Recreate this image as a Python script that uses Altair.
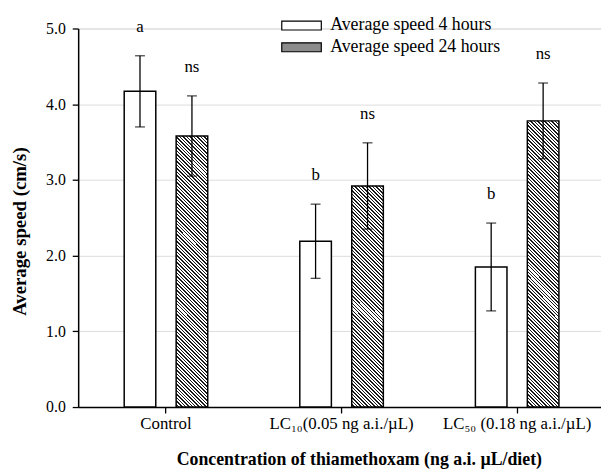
import altair as alt
import numpy as np
import pandas as pd

categories = ["Control", "LC₁₀(0.05 ng a.i./µL)", "LC₅₀ (0.18 ng a.i./µL)"]
series = ["Average speed 4 hours", "Average speed 24 hours"]
mean_4h = [4.17, 2.19, 1.85]
se_4h = [0.47, 0.49, 0.58]
mean_24h = [3.58, 2.92, 3.78]
se_24h = [0.53, 0.57, 0.50]
letters_4h = ["a", "b", "b"]
letters_24h = ["ns", "ns", "ns"]

rows = []
for i, c in enumerate(categories):
    rows.append(dict(idx=i, cat=c, series=series[0], mean=mean_4h[i],
                     lo=mean_4h[i] - se_4h[i], hi=mean_4h[i] + se_4h[i], letter=letters_4h[i]))
    rows.append(dict(idx=i, cat=c, series=series[1], mean=mean_24h[i],
                     lo=mean_24h[i] - se_24h[i], hi=mean_24h[i] + se_24h[i], letter=letters_24h[i]))
df = pd.DataFrame(rows)

FONT = "Liberation Serif"
PLOT_H = 383
PX_PER_UNIT = PLOT_H / 5.0
BAR_W = 32.0


def hatch(value):
    # diagonal stripe fill (style only) built as a sharp-stop linear gradient
    w = BAR_W
    h = value * PX_PER_UNIT
    r = w / h
    k = (r + 1) / (r * r + 1)
    ext = (w + h) / np.sqrt(2)
    n = int(round(ext / 2.5))
    stops = []
    for j in range(n):
        a = j / n
        b = (j + 0.42) / n
        e = (j + 1) / n
        stops += [
            {"offset": a, "color": "#1a1a1a"},
            {"offset": b, "color": "#1a1a1a"},
            {"offset": b, "color": "#ffffff"},
            {"offset": e, "color": "#ffffff"},
        ]
    return {"gradient": "linear", "x1": 1, "y1": 0, "x2": 1 - k * r, "y2": k, "stops": stops}


x_axis = alt.Axis(title="Concentration of thiamethoxam (ng a.i. µL/diet)", labelAngle=0,
                  labelFont=FONT, titleFont=FONT, labelColor="black", titleColor="black",
                  domainColor="black", tickColor="black",
                  tickSize=6, tickWidth=1.3, domainWidth=1.5, labelFontSize=17, labelPadding=3,
                  labelLimit=300,
                  titleFontSize=18, titleFontWeight="bold", titleX=284, titleY=58,
                  titleBaseline="alphabetic", titleAlign="center")
y_axis = alt.Axis(title="Average speed (cm/s)", values=[0, 1, 2, 3, 4, 5], format=".1f",
                  labelFont=FONT, titleFont=FONT, labelColor="black", titleColor="black",
                  domainColor="black", tickColor="black",
                  tickSize=6, tickWidth=1.3, domainWidth=1.5, labelFontSize=16, labelPadding=7,
                  titleFontSize=19, titleFontWeight="bold", titleX=-59, titleY=205,
                  titleBaseline="middle", titleAlign="center")

X = alt.X("cat:N", sort=categories, axis=x_axis,
          scale=alt.Scale(range=[0, 533], paddingInner=0, paddingOuter=0))
XO = alt.XOffset("series:N", sort=series, scale=alt.Scale(paddingInner=0.392, paddingOuter=0.886))
yscale = alt.Scale(domain=[0, 5], nice=False)


def Y(field):
    return alt.Y(field, scale=yscale, axis=y_axis)


base = alt.Chart(df)

bars4 = base.transform_filter(alt.datum.series == series[0]).mark_bar(
    stroke="black", strokeWidth=1.5).encode(
    x=X, xOffset=XO, y=Y("mean:Q"),
    fill=alt.Fill("series:N", scale=alt.Scale(domain=series, range=["#ffffff", "#8c8c8c"]),
                  legend=alt.Legend(title=None, orient="none", legendX=202, legendY=-12,
                                    symbolType="M-1,-0.9H7V0.9H-1Z", symbolSize=100,
                                    symbolStrokeColor="black", symbolStrokeWidth=1.2,
                                    symbolOpacity=1, labelFont=FONT, labelFontSize=18,
                                    labelColor="black", labelOffset=35, labelLimit=300,
                                    rowPadding=4, padding=0)))

hatched = []
for i, c in enumerate(categories):
    hatched.append(
        base.transform_filter((alt.datum.series == series[1]) & (alt.datum.idx == i)).mark_bar(
            fill=hatch(mean_24h[i]), stroke="black", strokeWidth=1.5).encode(
            x=X, xOffset=XO, y=Y("mean:Q"))
    )

rules = base.mark_rule(color="black", strokeWidth=1.3).encode(
    x=X, xOffset=XO, y=Y("lo:Q"), y2="hi:Q")
cap_hi = base.mark_tick(color="black", thickness=1.3, size=10).encode(
    x=X, xOffset=XO, y=Y("hi:Q"))
cap_lo = base.mark_tick(color="black", thickness=1.3, size=10).encode(
    x=X, xOffset=XO, y=Y("lo:Q"))
letters = base.mark_text(font=FONT, fontSize=17, dy=-29, baseline="middle", color="black").encode(
    x=X, xOffset=XO, y=Y("hi:Q"), text="letter:N")

chart = alt.layer(bars4, *hatched, rules, cap_hi, cap_lo, letters).properties(
    width=529, height=PLOT_H,
    padding={"left": 71, "top": 18, "right": 0, "bottom": 65},
    autosize=alt.AutoSizeParams(type="none"),
).configure_axis(
    labelFont=FONT, titleFont=FONT, labelColor="black", titleColor="black",
    domainColor="black", tickColor="black", grid=False,
).configure_view(stroke=None).configure(background="white")

chart.save("out.html", embed_options={"renderer": "svg", "actions": False})
